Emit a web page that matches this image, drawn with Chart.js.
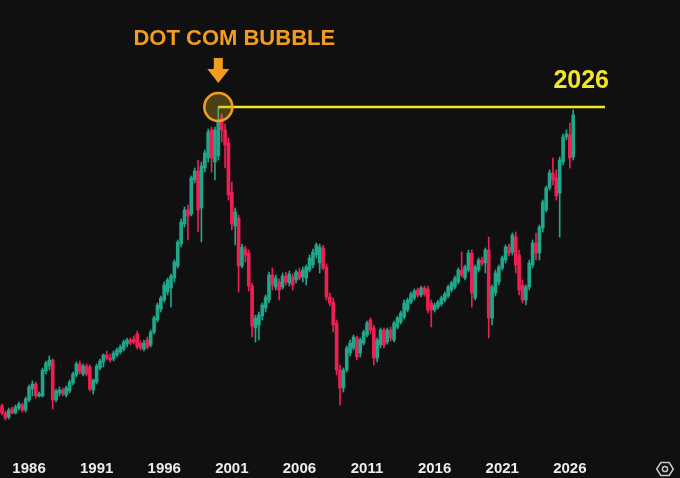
<!DOCTYPE html>
<html>
<head>
<meta charset="utf-8">
<script src="https://cdn.jsdelivr.net/npm/chart.js@4.4.1/dist/chart.umd.min.js"></script>
<style>
  html, body { margin: 0; padding: 0; background: #101010; }
  #wrap { width: 680px; height: 478px; position: relative; }
</style>
</head>
<body>
<div id="wrap"><canvas id="c"></canvas></div>
<script>
// ---- data (quarterly candles, relative index units, unlabeled axis) ----
const START_YEAR = 1984;            // first candle: 1984 Q1
const YEAR_TICKS = [1986, 1991, 1996, 2001, 2006, 2011, 2016, 2021, 2026];
const TITLE = 'DOT COM BUBBLE';
const END_LABEL = '2026';
const LINE_END_YEAR = 2028.6;

const OPEN = [
  23, 19.5, 17.5, 21.5, 19.5, 22, 23.5, 21, 26, 31.5,
  34, 28, 28, 40.5, 43, 46, 26, 29.5, 31, 28.5,
  30.5, 34.5, 38.5, 44, 39, 43, 42.5, 31, 35, 42,
  45, 48.5, 47, 46.5, 48.5, 50, 51.5, 54, 56, 56.5,
  59, 54.5, 51.5, 56, 53.5, 60, 66, 71.5, 76, 80,
  82, 87, 93, 104, 114, 121, 119, 136, 140.5, 122,
  142, 147, 161, 145, 148, 167, 161, 154.5, 130, 113,
  117, 93, 101.5, 99.5, 83, 62, 63.5, 68, 72, 76,
  88.5, 82.5, 85, 82.5, 88, 84.5, 87.5, 86, 90, 87.5,
  87, 91, 93.5, 98.5, 94.5, 102, 92.5, 77.5, 75, 64.5,
  41, 32, 41, 49.5, 52, 57, 49.5, 54.5, 58.5, 66,
  62, 47, 53.5, 61, 55, 61, 56, 62.5, 65, 67.5,
  71, 75, 77, 81, 78.5, 82, 81.5, 74.5, 71, 72.5,
  74, 76, 78, 81, 82.5, 85, 91, 87, 91, 99.5,
  77, 91, 96, 94.5, 101, 67, 79.5, 85, 92, 96,
  102.5, 100, 107.5, 98.5, 83.5, 76, 82.5, 93.5, 104.5, 99.5,
  112, 121, 132, 139.5, 137, 129.5, 145, 157.5, 158.5, 147.5
];
const HIGH = [
  24, 20.5, 22, 22.5, 23.5, 25, 24.5, 27.5, 33.5, 35.5,
  35, 30, 42, 45.5, 48, 46.5, 31.5, 32.5, 32, 33,
  36, 40, 45, 45.5, 44, 44, 43.5, 36.5, 44, 46.5,
  49, 50.5, 49, 50.5, 52, 53.5, 56, 57, 57, 58,
  60.5, 55.5, 56, 57.5, 61, 68, 74.5, 78, 85, 87,
  89, 96, 106, 116.5, 122.5, 123.5, 138, 142, 146, 145,
  151, 161.5, 162.5, 162.5, 172.5, 169, 164, 157, 135, 122,
  118.5, 104, 103, 101, 84.5, 68.5, 70, 74.5, 78.5, 90,
  92, 88.5, 86.5, 89.5, 90, 90.5, 89, 91, 92, 92.5,
  93.5, 98.5, 101.5, 104.5, 104, 103.5, 94, 79.5, 77, 66,
  43.5, 42, 53, 56, 58.5, 58, 57, 61, 65.5, 67,
  63.5, 57, 62, 62, 62, 62.5, 65.5, 68, 70.5, 76,
  77, 80, 81.5, 82, 83, 83, 83, 76, 74.5, 76,
  78, 80, 83.5, 85.5, 88, 92, 100, 93.5, 101, 101,
  93.5, 97, 97.5, 102, 107.5, 83.5, 91, 93.5, 98, 103.5,
  104, 109.5, 110, 101, 86, 83.5, 96, 106, 109.5, 113.5,
  126, 133, 141, 147, 141, 147.5, 159, 161, 164.5, 171
];
const LOW = [
  18.5, 16, 16.5, 19, 19, 21, 20, 20, 25, 28,
  27, 27.5, 27.5, 39, 41, 21.5, 25, 28, 28, 27.5,
  29.5, 33.5, 37.5, 39, 38, 38, 30.5, 29, 34, 41,
  42.5, 46, 45, 45.5, 47.5, 49, 50.5, 52.5, 53.5, 54,
  51.5, 51, 50.5, 51.5, 52.5, 59, 65, 70, 75, 78.5,
  72.5, 85, 92, 102.5, 112.5, 106, 118, 134.5, 110, 105,
  140, 145, 140, 136, 146, 155, 142, 126, 111, 103.5,
  80, 92, 95, 80.5, 57.5, 55, 56, 66, 70, 74.5,
  81, 81, 76, 81.5, 83.5, 83, 81, 84.5, 86, 85,
  83.5, 90, 92, 97, 89.5, 91, 76, 73, 60, 38.5,
  23.5, 30, 40, 48, 51, 46, 47.5, 53.5, 57.5, 59,
  43.5, 45, 52, 52, 54, 55.5, 55, 61.5, 64, 66.5,
  70, 74, 76, 77.5, 77.5, 78, 69.5, 62.5, 70, 71.5,
  73, 75, 77, 80, 81.5, 84, 87.5, 86, 90, 72.5,
  76, 90, 93, 89.5, 57, 63.5, 78, 83.5, 91, 94.5,
  98, 98.5, 89.5, 78.5, 74.5, 73.5, 81, 92, 96, 96,
  110, 120, 131, 133.5, 126, 107.5, 143.5, 156, 142, 146
];
const CLOSE = [
  19.5, 17, 21, 19.5, 22.5, 24, 21, 26.5, 32.5, 34,
  28, 29, 41, 44.5, 46, 26, 30.5, 31, 29, 32,
  35, 39, 44, 40, 43, 39, 31.5, 36, 43, 45.5,
  48.5, 47, 46, 49.5, 51, 52.5, 55, 56, 54.5, 55,
  52.5, 52, 54.5, 52.5, 60, 67, 73.5, 77, 83.5, 86,
  88, 95, 105, 115, 121, 118, 137, 140.5, 121, 143,
  149.5, 160, 147, 161, 166, 161, 153.5, 128.5, 114, 120,
  93, 102.5, 98.5, 83, 63, 67, 68.5, 73.5, 77.5, 88.5,
  83.5, 87, 81, 88, 85, 89, 83.5, 90, 87, 91,
  92.5, 97, 100, 103.5, 102.5, 92, 77.5, 74.5, 63.5, 41,
  32, 41, 52, 54.5, 57.5, 47.5, 56, 60, 64.5, 61,
  47, 56, 61, 53.5, 61, 57, 64.5, 67, 69.5, 74.5,
  76, 79, 80.5, 78.5, 82, 79, 71, 71, 73.5, 75,
  77, 79, 82.5, 84.5, 87, 91, 88.5, 92.5, 99.5, 79.5,
  92.5, 96, 94.5, 101, 67, 82.5, 89.5, 92.5, 97, 102.5,
  99.5, 108.5, 93.5, 81, 76, 82.5, 94.5, 104.5, 99.5, 112.5,
  125, 132, 139.5, 136, 128, 146, 157.5, 159, 147, 168.5
];

// ---- styling ----
const FONT = '"Liberation Sans", Arial, sans-serif';
const UP = '#1fa68b';
const DOWN = '#ee1f52';
const ORANGE = '#f39c1f';
const YELLOW = '#f2e52a';

const QUARTER_T = OPEN.map((_, i) => START_YEAR + i / 4);
const candleColors = OPEN.map((o, i) => (CLOSE[i] >= o ? UP : DOWN));
let peakIdx = 0;
HIGH.forEach((h, i) => { if (h > HIGH[peakIdx]) peakIdx = i; });
const PEAK_T = QUARTER_T[peakIdx];
const PEAK_V = HIGH[peakIdx];

const annotations = {
  id: 'annotations',
  afterDatasetsDraw(chart) {
    const { ctx, scales: { x, y } } = chart;
    const px = x.getPixelForValue(PEAK_T);
    const py = y.getPixelForValue(PEAK_V);
    ctx.save();
    // title
    ctx.fillStyle = ORANGE;
    ctx.font = 'bold 22px ' + FONT;
    ctx.textAlign = 'center';
    ctx.textBaseline = 'alphabetic';
    ctx.fillText(TITLE, px + 16, py - 62);
    // arrow
    ctx.beginPath();
    ctx.moveTo(px - 4.5, py - 49);
    ctx.lineTo(px + 4.5, py - 49);
    ctx.lineTo(px + 4.5, py - 38);
    ctx.lineTo(px + 11, py - 38);
    ctx.lineTo(px, py - 24);
    ctx.lineTo(px - 11, py - 38);
    ctx.lineTo(px - 4.5, py - 38);
    ctx.closePath();
    ctx.fill();
    // end label
    const lx = x.getPixelForValue(QUARTER_T[QUARTER_T.length - 1]);
    ctx.fillStyle = YELLOW;
    ctx.font = 'bold 25px ' + FONT;
    ctx.fillText(END_LABEL, lx + 8, py - 19);
    // hexagon settings icon (bottom-right)
    const cx = 665, cy = 469, r = 8.3;
    ctx.strokeStyle = '#c9c9c9';
    ctx.lineWidth = 1.5;
    ctx.beginPath();
    for (let k = 0; k < 6; k++) {
      const a = Math.PI / 3 * k;
      const hx = cx + r * Math.cos(a), hy = cy + r * 0.9 * Math.sin(a);
      if (k === 0) ctx.moveTo(hx, hy); else ctx.lineTo(hx, hy);
    }
    ctx.closePath();
    ctx.stroke();
    ctx.beginPath();
    ctx.arc(cx, cy, 2.6, 0, Math.PI * 2);
    ctx.stroke();
    ctx.restore();
  }
};

new Chart(document.getElementById('c'), {
  type: 'bar',
  data: {
    datasets: [
      {
        type: 'scatter',
        order: 0,
        data: [{ x: PEAK_T, y: PEAK_V }],
        pointRadius: 14,
        backgroundColor: 'rgba(200,168,40,0.32)',
        borderColor: ORANGE,
        borderWidth: 2.6,
        clip: false
      },
      {
        type: 'line',
        order: 1,
        data: [{ x: PEAK_T, y: PEAK_V }, { x: LINE_END_YEAR, y: PEAK_V }],
        borderColor: YELLOW,
        borderWidth: 2.5,
        pointRadius: 0
      },
      {
        order: 2,
        data: QUARTER_T.map((t, i) => ({ x: t, y: [OPEN[i], CLOSE[i]] })),
        backgroundColor: candleColors,
        barThickness: 3,
        minBarLength: 1,
        grouped: false,
        borderWidth: 0
      },
      {
        order: 3,
        data: QUARTER_T.map((t, i) => ({ x: t, y: [LOW[i], HIGH[i]] })),
        backgroundColor: candleColors,
        barThickness: 1,
        grouped: false,
        borderWidth: 0
      }
    ]
  },
  options: {
    responsive: true,
    maintainAspectRatio: false,
    animation: false,
    devicePixelRatio: 1,
    layout: { padding: 0, autoPadding: false },
    plugins: { legend: { display: false }, tooltip: { enabled: false } },
    scales: {
      x: {
        type: 'linear',
        min: 1983.852,
        max: 2034.15,
        offset: false,
        grid: { display: false, drawTicks: false },
        border: { display: false },
        ticks: {
          color: '#ececec',
          font: { family: FONT, size: 15, weight: 'bold' },
          padding: 8,
          maxRotation: 0,
          autoSkip: false,
          callback: v => String(v)
        },
        afterBuildTicks: s => { s.ticks = YEAR_TICKS.map(v => ({ value: v })); },
        afterFit: s => { s.height = 26; }
      },
      y: { display: false, min: 0, max: 226 }
    }
  },
  plugins: [annotations]
});
</script>
</body>
</html>
